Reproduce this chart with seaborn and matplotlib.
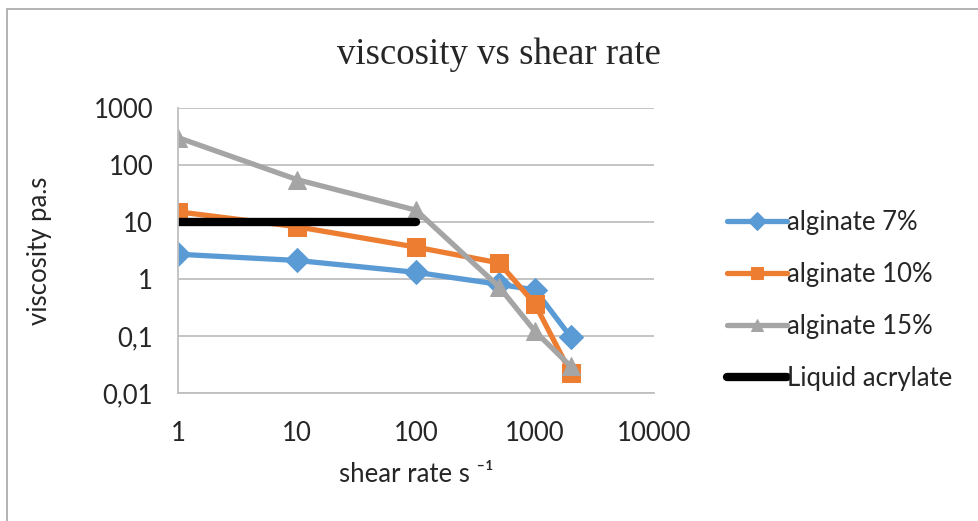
import numpy as np
import pandas as pd
import seaborn as sns
import matplotlib.pyplot as plt
from matplotlib.patches import Rectangle
from matplotlib.ticker import FixedLocator, NullLocator

# data
shear_rate = [1, 10, 100, 500, 1000, 2000]
alginate_7 = [2.7, 2.1, 1.3, 0.8, 0.64, 0.095]
alginate_10 = [15, 8.2, 3.6, 1.9, 0.36, 0.022]
alginate_15 = [300, 55, 16, 0.72, 0.12, 0.029]
acrylate_rate = [1, 100]
acrylate_visc = [10, 10]

x_ticks = [1, 10, 100, 1000, 10000]
x_labels = ['1', '10', '100', '1000', '10000']
y_ticks = [0.01, 0.1, 1, 10, 100, 1000]
y_labels = ['0,01', '0,1', '1', '10', '100', '1000']

series = [
    ('alginate 7%', alginate_7, '#5B9BD5', 'D', 12),
    ('alginate 10%', alginate_10, '#ED7D31', 's', 13),
    ('alginate 15%', alginate_15, '#A5A5A5', '^', 13.5),
]

sns.set_style('white')
plt.rcParams['font.family'] = ['Lato', 'DejaVu Sans']

fig = plt.figure(figsize=(9.79, 5.21), dpi=100)
ax = fig.add_axes([0.182, 0.246, 0.486, 0.547])

for name, vals, col, mk, ms in series:
    df = pd.DataFrame({'x': shear_rate, 'y': vals})
    sns.lineplot(data=df, x='x', y='y', ax=ax, color=col, lw=3.8, marker=mk,
                 markersize=ms, markeredgecolor=col, sort=False, label=name)

df = pd.DataFrame({'x': acrylate_rate, 'y': acrylate_visc})
sns.lineplot(data=df, x='x', y='y', ax=ax, color='black', lw=6,
             solid_capstyle='round', sort=False, label='Liquid acrylate')

ax.set_xscale('log')
ax.set_yscale('log')
ax.set_xlim(1, 10000)
ax.set_ylim(0.01, 1000)
ax.xaxis.set_major_locator(FixedLocator(x_ticks))
ax.yaxis.set_major_locator(FixedLocator(y_ticks))
ax.xaxis.set_minor_locator(NullLocator())
ax.yaxis.set_minor_locator(NullLocator())
ax.set_xticklabels(x_labels)
ax.set_yticklabels(y_labels)
ax.tick_params(axis='x', length=0, labelsize=18.5, pad=20)
ax.tick_params(axis='y', length=0, labelsize=18.5, pad=18)

ax.grid(axis='y', color='#BFBFBF', lw=1.3)
ax.set_axisbelow(True)
for s in ['top', 'right']:
    ax.spines[s].set_visible(False)
for s in ['left', 'bottom']:
    ax.spines[s].set_color('#BFBFBF')
    ax.spines[s].set_linewidth(1.3)

ax.set_xlabel('shear rate s \u207b\u00b9', fontsize=18.5, labelpad=12)
ax.set_ylabel('viscosity pa.s', fontsize=18.5, labelpad=30)
fig.text(0.51, 1 - 55 / 521, 'viscosity vs shear rate', fontsize=26.5,
         family='Liberation Serif', ha='center', va='center')

leg = ax.legend(loc='center left', bbox_to_anchor=(1.105, 0.325), frameon=False,
                fontsize=18.5, handlelength=2.35, handletextpad=0.0, labelspacing=1.05)
for h in leg.legend_handles:
    h.set_markersize(9)

fig.patches.append(Rectangle((7 / 979, -0.1), 1.2, 1 - 9 / 521 + 0.1, transform=fig.transFigure,
                             fill=False, edgecolor='#A6A6A6', lw=1.2))

fig.savefig('out.png', dpi=100)
